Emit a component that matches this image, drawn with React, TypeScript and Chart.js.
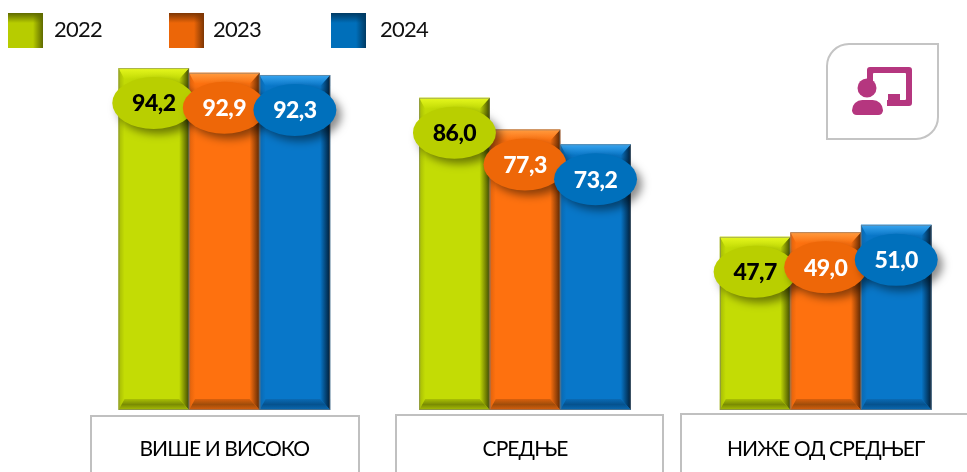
import React, { useEffect, useRef } from "react";
import { Chart, registerables } from "chart.js";

Chart.register(...registerables);

const categories = ["ВИШЕ И ВИСОКО", "СРЕДЊЕ", "НИЖЕ ОД СРЕДЊЕГ"];
const years = ["2022", "2023", "2024"];
const values2022 = [94.2, 86.0, 47.7];
const values2023 = [92.9, 77.3, 49.0];
const values2024 = [92.3, 73.2, 51.0];

const FONT = "Lato, 'Open Sans', 'Noto Sans', sans-serif";
const barColors = ["#c3dc05", "#fe710f", "#0877c9"];
const topColors = ["#e6f81e", "#ff9c40", "#3aa6f0"];
const sideLight = ["#a5ba05", "#e0620c", "#0a68b0"];
const rightColors = ["#3f4800", "#5a2703", "#011c35"];
const bottomInner = ["#7a8c03", "#a04c0a", "#05528e"];
const bottomOuter = ["#a9c004", "#d9600c", "#0a6ab4"];
const ovalColors = ["#b9cf00", "#ee6708", "#0070bc"];
const ovalText = ["#000000", "#ffffff", "#ffffff"];
const swatchColors = ["#b7cc00", "#ec6608", "#006fba"];
const swatchDark = ["#5f6a00", "#7d3604", "#003a63"];
const swatchX = [8, 169, 331];
const legendTextX = [54, 213, 380];
const boxes = [
  [91, 416, 359],
  [396, 415, 663],
  [681, 414, 990],
];
const ICON = "#b5367f";

function poly(ctx: CanvasRenderingContext2D, pts: number[][], fill: string | CanvasGradient) {
  ctx.beginPath();
  pts.forEach(([x, y], i) => (i ? ctx.lineTo(x, y) : ctx.moveTo(x, y)));
  ctx.closePath();
  ctx.fillStyle = fill;
  ctx.fill();
}

function drawBevel(ctx: CanvasRenderingContext2D, l: number, r: number, t: number, b: number, i: number) {
  const d = 11;
  const dl = 6;
  const dr = 10;
  const left = ctx.createLinearGradient(l, 0, l + dl, 0);
  left.addColorStop(0, sideLight[i]);
  left.addColorStop(1, barColors[i]);
  poly(ctx, [[l, t], [l + dl, t + d], [l + dl, b - d], [l, b]], left);
  const right = ctx.createLinearGradient(r - dr, 0, r, 0);
  right.addColorStop(0, barColors[i]);
  right.addColorStop(1, rightColors[i]);
  poly(ctx, [[r, t], [r - dr, t + d], [r - dr, b - d], [r, b]], right);
  const top = ctx.createLinearGradient(0, t, 0, t + d);
  top.addColorStop(0, topColors[i]);
  top.addColorStop(1, barColors[i]);
  poly(ctx, [[l, t], [r, t], [r - dr, t + d], [l + dl, t + d]], top);
  const bot = ctx.createLinearGradient(0, b - d, 0, b);
  bot.addColorStop(0, bottomOuter[i]);
  bot.addColorStop(0.5, bottomInner[i]);
  bot.addColorStop(1, bottomOuter[i]);
  poly(ctx, [[l, b], [l + dl, b - d], [r - dr, b - d], [r, b]], bot);
  ctx.strokeStyle = "rgba(120,120,120,0.55)";
  ctx.lineWidth = 1;
  ctx.strokeRect(l + 0.5, t + 0.5, r - l - 1, b - t - 1);
}

function drawIcon(ctx: CanvasRenderingContext2D) {
  ctx.save();
  ctx.strokeStyle = "#c4c4c4";
  ctx.lineWidth = 2;
  ctx.beginPath();
  ctx.roundRect(827, 44, 111, 95, [22, 0, 22, 0]);
  ctx.stroke();
  ctx.fillStyle = ICON;
  ctx.beginPath();
  ctx.roundRect(867, 67, 45, 39, 3);
  ctx.roundRect(873, 73, 33, 27, 1);
  ctx.fill("evenodd");
  ctx.clearRect(860, 84, 27, 24);
  ctx.fillRect(887, 100, 20, 6);
  ctx.fillRect(888, 94, 12, 7);
  ctx.beginPath();
  ctx.arc(867, 88, 9.5, 0, Math.PI * 2);
  ctx.fill();
  ctx.beginPath();
  ctx.roundRect(852, 100, 31, 15, [11, 11, 5, 5]);
  ctx.fill();
  ctx.restore();
}

const decorate = {
  id: "decorate",
  beforeDraw(chart: any) {
    const ctx = chart.ctx as CanvasRenderingContext2D;
    ctx.save();
    ctx.strokeStyle = "#c0c0c0";
    ctx.lineWidth = 2;
    boxes.forEach(([l, t, r]) => {
      ctx.beginPath();
      ctx.moveTo(l, 480);
      ctx.lineTo(l, t);
      ctx.lineTo(r, t);
      ctx.lineTo(r, 480);
      ctx.stroke();
    });
    years.forEach((y, i) => {
      const x = swatchX[i];
      ctx.fillStyle = swatchColors[i];
      ctx.fillRect(x, 13, 35, 35);
      const g = ctx.createLinearGradient(x + 25, 0, x + 35, 0);
      g.addColorStop(0, swatchDark[i] + "00");
      g.addColorStop(1, swatchDark[i]);
      ctx.fillStyle = g;
      ctx.fillRect(x, 13, 35, 35);
      const g2 = ctx.createLinearGradient(0, 13, 0, 23);
      g2.addColorStop(0, swatchDark[i]);
      g2.addColorStop(1, swatchDark[i] + "00");
      ctx.fillStyle = g2;
      ctx.fillRect(x, 13, 35, 35);
      ctx.fillStyle = "#111111";
      ctx.font = `22px ${FONT}`;
      (ctx as any).letterSpacing = "-0.8px";
      ctx.textAlign = "left";
      ctx.textBaseline = "middle";
      ctx.fillText(y, legendTextX[i], 30);
    });
    drawIcon(ctx);
    ctx.restore();
    (ctx as any).letterSpacing = "-0.9px";
  },
  afterDatasetsDraw(chart: any) {
    const ctx = chart.ctx as CanvasRenderingContext2D;
    ctx.save();
    chart.data.datasets.forEach((_: any, i: number) => {
      chart.getDatasetMeta(i).data.forEach((el: any) => {
        const p = el.getProps(["x", "y", "width", "base"], true);
        drawBevel(ctx, p.x - p.width / 2, p.x + p.width / 2, p.y, p.base, i);
      });
    });
    chart.data.datasets.forEach((ds: any, i: number) => {
      chart.getDatasetMeta(i).data.forEach((el: any, j: number) => {
        const p = el.getProps(["x", "y"], true);
        const cy = p.y + 35;
        ctx.save();
        ctx.shadowColor = "rgba(0,0,0,0.45)";
        ctx.shadowBlur = 8;
        ctx.shadowOffsetX = 5;
        ctx.shadowOffsetY = 5;
        ctx.fillStyle = ovalColors[i];
        ctx.beginPath();
        ctx.ellipse(p.x, cy, 41.5, 26, 0, 0, Math.PI * 2);
        ctx.fill();
        ctx.restore();
        ctx.fillStyle = ovalText[i];
        ctx.font = `900 23px ${FONT}`;
        (ctx as any).letterSpacing = "-0.5px";
        ctx.textAlign = "center";
        ctx.textBaseline = "middle";
        ctx.fillText(ds.data[j].toFixed(1).replace(".", ","), p.x, cy + 1);
      });
    });
    ctx.restore();
    (ctx as any).letterSpacing = "0px";
  },
};

export default function App() {
  const ref = useRef<HTMLCanvasElement>(null);
  useEffect(() => {
    const chart = new Chart(ref.current!, {
      type: "bar",
      data: {
        labels: categories,
        datasets: [values2022, values2023, values2024].map((data, i) => ({
          label: years[i],
          data,
          backgroundColor: barColors[i],
          borderWidth: 0,
          categoryPercentage: 0.704,
          barPercentage: 1,
        })),
      },
      options: {
        responsive: false,
        animation: false,
        layout: { padding: { left: 74, right: 0, top: 47, bottom: 0 } },
        plugins: { legend: { display: false }, tooltip: { enabled: false } },
        scales: {
          x: {
            grid: { display: false },
            border: { display: false },
            ticks: {
              color: "#000000",
              font: { family: FONT, size: 21 },
              padding: 19,
              maxRotation: 0,
              autoSkip: false,
            },
            afterFit(scale: any) {
              scale.height = 62;
            },
          },
          y: { display: false, min: 0, max: 100 },
        },
      },
      plugins: [decorate],
    } as any);
    return () => chart.destroy();
  }, []);
  return (
    <div style={{ position: "fixed", left: 0, top: 0, width: 967, height: 472, overflow: "hidden", background: "#fff" }}>
      <canvas ref={ref} width={976} height={472} style={{ display: "block" }} />
    </div>
  );
}
